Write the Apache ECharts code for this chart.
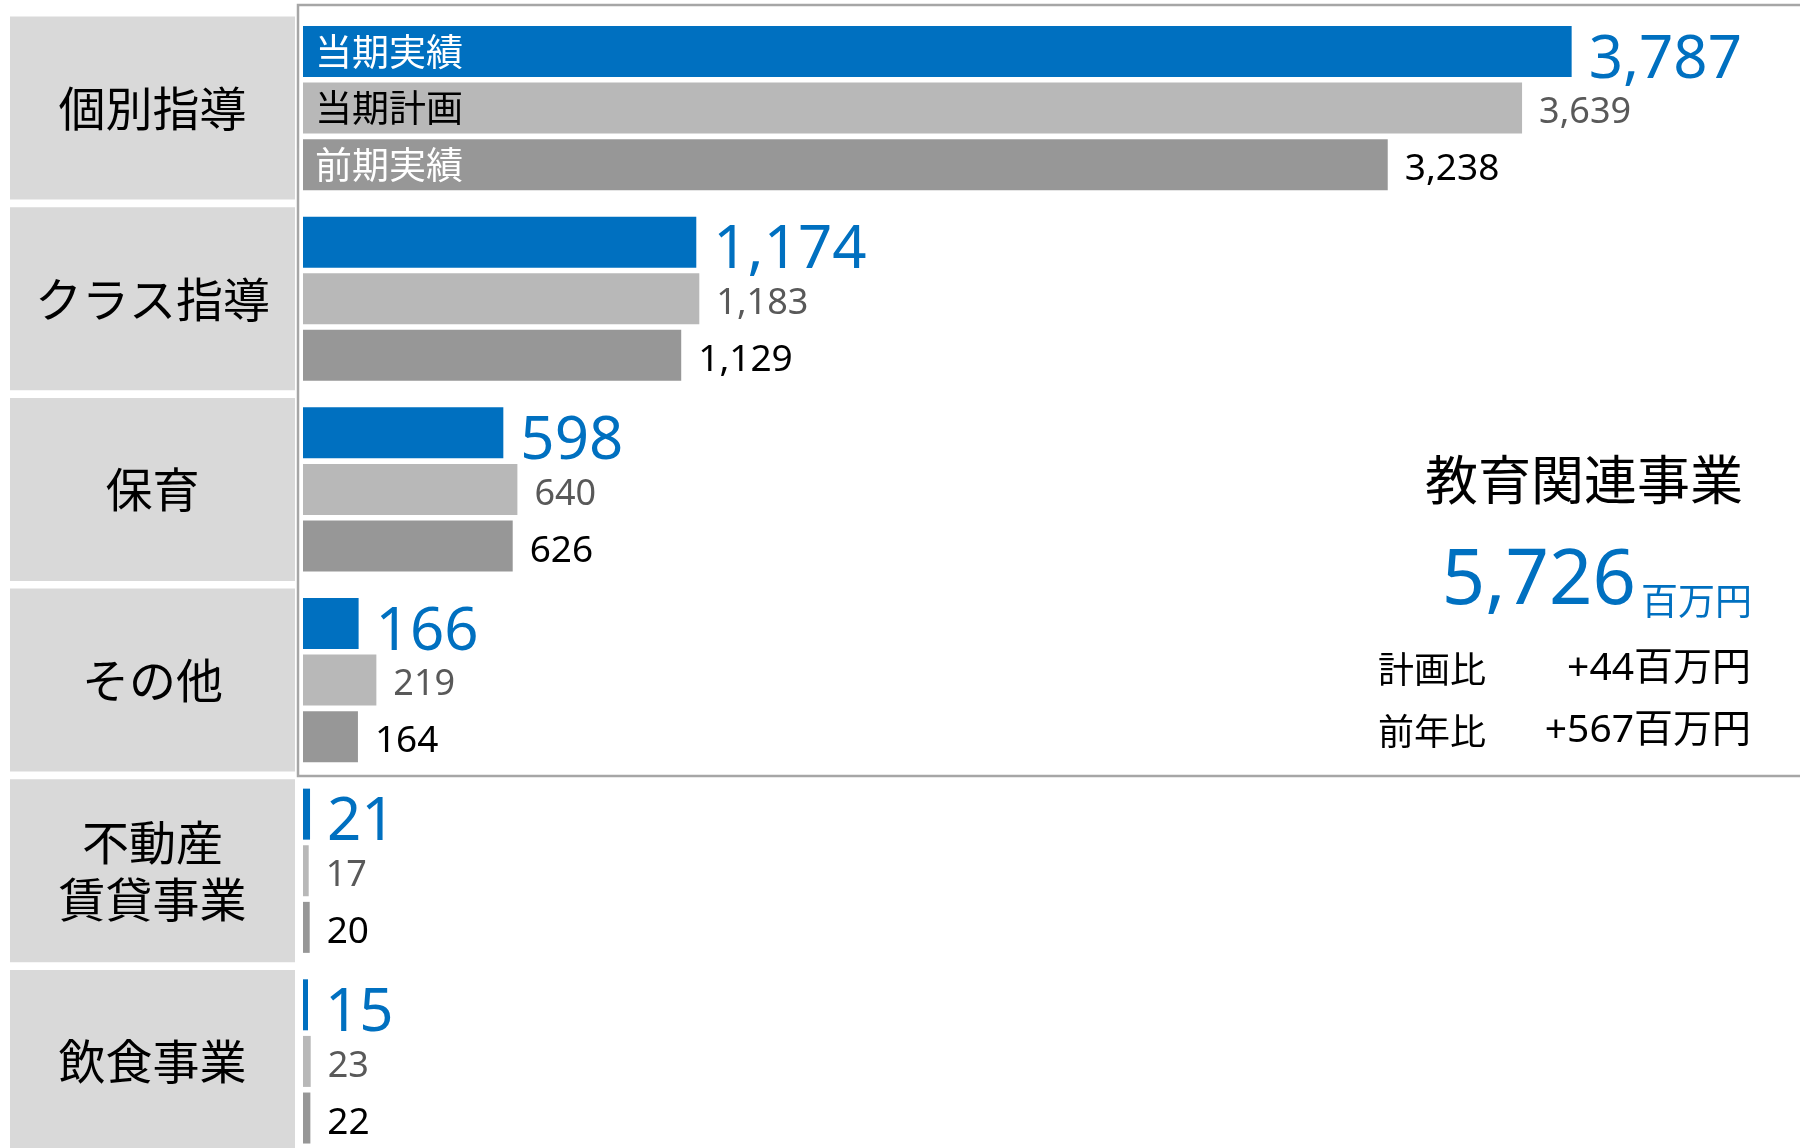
<!DOCTYPE html>
<html>
<head>
<meta charset="utf-8">
<script src="https://cdn.jsdelivr.net/npm/echarts@6/dist/echarts.min.js"></script>
<style>
  html, body { margin: 0; padding: 0; background: #fff; }
  #chart { width: 1800px; height: 1148px; }
</style>
</head>
<body>
<div id="chart"></div>
<script>
// 売上高（百万円）
var categories = ['個別指導', 'クラス指導', '保育', 'その他', '不動産\n賃貸事業', '飲食事業'];
var seriesNames = ['当期実績', '当期計画', '前期実績'];
var actual = [3787, 1174, 598, 166, 21, 15];
var plan = [3639, 1183, 640, 219, 17, 23];
var prior = [3238, 1129, 626, 164, 20, 22];

var summaryTitle = '教育関連事業';
var summaryTotal = '5,726';
var summaryUnit = '百万円';
var diffLabels = ['計画比', '前年比'];
var diffValues = ['+44百万円', '+567百万円'];

var FONT_JP = '"Noto Sans CJK JP", sans-serif';
var FONT_NUM = '"Noto Sans", "Noto Sans CJK JP", sans-serif';
var BLUE = '#0070C0';

var chart = echarts.init(document.getElementById('chart'));

var seriesData = [actual, plan, prior];
var barColors = [BLUE, '#B8B8B8', '#979797'];
var valueStyles = [
  { fontSize: 60, color: BLUE, dy: 9 },
  { fontSize: 36, color: '#595959', dy: 5 },
  { fontSize: 37, color: '#000', dy: 5 }
];
var nameColors = ['#fff', '#000', '#fff'];

function fmt(p) {
  return p.value.toLocaleString('en-US');
}

var series = [];
seriesData.forEach(function (d, i) {
  series.push({
    type: 'bar',
    name: seriesNames[i],
    data: d,
    barWidth: 51,
    barGap: '11%',
    silent: true,
    itemStyle: { color: barColors[i] },
    label: {
      show: true,
      position: 'right',
      distance: 17,
      offset: [0, valueStyles[i].dy],
      formatter: fmt,
      fontFamily: FONT_NUM,
      fontSize: valueStyles[i].fontSize,
      color: valueStyles[i].color
    }
  });
});
// 系列名（1行目のバーの中）
seriesData.forEach(function (d, i) {
  series.push({
    type: 'bar',
    name: seriesNames[i] + '_name',
    xAxisIndex: 1,
    yAxisIndex: 1,
    barWidth: 51,
    barGap: '11%',
    silent: true,
    itemStyle: { color: 'rgba(0,0,0,0)' },
    label: { show: false },
    data: d.map(function (v, k) {
      if (k !== 0) return v;
      return {
        value: v,
        label: {
          show: true,
          position: 'insideLeft',
          distance: 12,
          formatter: seriesNames[i],
          fontFamily: FONT_JP,
          fontSize: 37,
          color: nameColors[i]
        }
      };
    })
  });
});

var gridBase = { left: 303, top: 12.75, width: 1340, height: 1144, outerBoundsMode: 'none', containLabel: false };

chart.setOption({
  animation: false,
  backgroundColor: '#fff',
  grid: [
    Object.assign({}, gridBase),
    Object.assign({}, gridBase)
  ],
  xAxis: [
    { type: 'value', min: 0, max: 4000, show: false, gridIndex: 0 },
    { type: 'value', min: 0, max: 4000, show: false, gridIndex: 1 }
  ],
  yAxis: [
    {
      type: 'category',
      gridIndex: 0,
      data: categories,
      inverse: true,
      axisLine: { show: false },
      axisTick: { show: false },
      axisLabel: {
        interval: 0,
        margin: 150.5,
        align: 'center',
        width: 285,
        height: 183,
        lineHeight: 57,
        backgroundColor: '#D9D9D9',
        fontFamily: FONT_JP,
        fontSize: 47,
        color: '#000'
      }
    },
    {
      type: 'category',
      gridIndex: 1,
      data: categories,
      inverse: true,
      show: false
    }
  ],
  graphic: [
    {
      type: 'rect',
      z: -1,
      shape: { x: 298, y: 5, width: 1560, height: 771 },
      style: { fill: 'none', stroke: '#A6A6A6', lineWidth: 2.5 }
    },
    {
      type: 'text', x: 1743, y: 480,
      style: { text: summaryTitle, font: '53px ' + FONT_JP, fill: '#000', align: 'right', verticalAlign: 'middle' }
    },
    {
      type: 'text', x: 1636, y: 582,
      style: { text: summaryTotal, font: '76px ' + FONT_NUM, fill: BLUE, align: 'right', verticalAlign: 'middle' }
    },
    {
      type: 'text', x: 1641, y: 601,
      style: { text: summaryUnit, font: '37px ' + FONT_JP, fill: BLUE, align: 'left', verticalAlign: 'middle' }
    },
    {
      type: 'text', x: 1378, y: 669,
      style: { text: diffLabels[0], font: '36px ' + FONT_JP, fill: '#000', align: 'left', verticalAlign: 'middle' }
    },
    {
      type: 'text', x: 1751, y: 669,
      style: { text: diffValues[0], font: '39px ' + FONT_NUM, fill: '#000', align: 'right', verticalAlign: 'middle' }
    },
    {
      type: 'text', x: 1378, y: 731,
      style: { text: diffLabels[1], font: '36px ' + FONT_JP, fill: '#000', align: 'left', verticalAlign: 'middle' }
    },
    {
      type: 'text', x: 1751, y: 731,
      style: { text: diffValues[1], font: '39px ' + FONT_NUM, fill: '#000', align: 'right', verticalAlign: 'middle' }
    }
  ],
  series: series
});
</script>
</body>
</html>
